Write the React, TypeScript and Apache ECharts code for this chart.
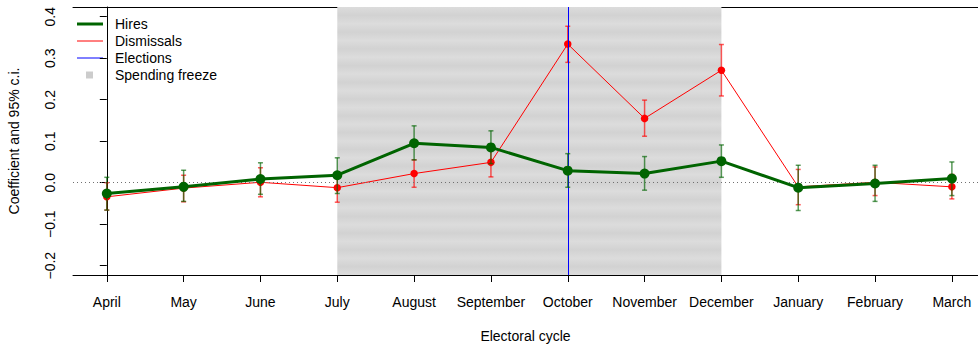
import React, { useEffect, useRef } from "react";
import * as echarts from "echarts";

const MONTHS = ["April", "May", "June", "July", "August", "September", "October", "November", "December", "January", "February", "March"];
const HIRES = [-0.026, -0.010, 0.009, 0.018, 0.095, 0.085, 0.029, 0.022, 0.052, -0.012, -0.002, 0.010];
const HIRES_LO = [-0.066, -0.045, -0.028, -0.026, 0.055, 0.046, -0.011, -0.018, 0.013, -0.067, -0.045, -0.031];
const HIRES_HI = [0.013, 0.030, 0.048, 0.060, 0.137, 0.125, 0.070, 0.063, 0.091, 0.042, 0.042, 0.050];
const DISM = [-0.034, -0.013, 0.001, -0.012, 0.022, 0.049, 0.334, 0.155, 0.271, -0.010, 0.001, -0.010];
const DISM_LO = [-0.066, -0.046, -0.034, -0.047, -0.011, 0.014, 0.290, 0.112, 0.209, -0.053, -0.031, -0.039];
const DISM_HI = [0.000, 0.018, 0.036, 0.022, 0.055, 0.088, 0.377, 0.199, 0.333, 0.032, 0.038, 0.020];
const Y_TICKS = [-0.2, -0.1, 0.0, 0.1, 0.2, 0.3, 0.4];
const FREEZE = [3, 8]; // July .. December
const ELECTION = 6; // October

const FONT = "'Liberation Sans', Arial, Helvetica, sans-serif";

function errorSeries(name: string, lo: number[], hi: number[], color: string, z: number) {
  return {
    type: "custom",
    name,
    z,
    silent: true,
    xAxisIndex: 0,
    data: lo.map((l, i) => [i, l, hi[i]]),
    renderItem: (params: any, api: any) => {
      const x = api.value(0);
      const p1 = api.coord([x, api.value(1)]);
      const p2 = api.coord([x, api.value(2)]);
      const cap = 2.5;
      const style = { stroke: color, lineWidth: 1.5, fill: "none" };
      return {
        type: "group",
        children: [
          { type: "line", shape: { x1: p1[0], y1: p1[1], x2: p2[0], y2: p2[1] }, style },
          { type: "line", shape: { x1: p1[0] - cap, y1: p1[1], x2: p1[0] + cap, y2: p1[1] }, style },
          { type: "line", shape: { x1: p2[0] - cap, y1: p2[1], x2: p2[0] + cap, y2: p2[1] }, style },
        ],
      };
    },
  };
}

export default function App() {
  const ref = useRef<HTMLDivElement>(null);
  useEffect(() => {
    if (!ref.current) return;
    const chart = echarts.init(ref.current, undefined, { renderer: "svg" });

    const stops: any[] = [];
    const N = 32;
    for (let k = 0; k <= N; k++) {
      stops.push({ offset: k / N, color: k % 2 === 0 ? "#dcdcdc" : "#d2d2d2" });
    }
    const stripe = new echarts.graphic.LinearGradient(0, 0, 0, 1, stops);

    const legendY = [24, 41, 58, 75];
    const legendText = ["Hires", "Dismissals", "Elections", "Spending freeze"];

    chart.setOption({
      animation: false,
      textStyle: { fontFamily: FONT },
      grid: {
        left: 73,
        top: 7,
        right: 0,
        bottom: 70,
        show: false,
        containLabel: false,
        outerBoundsMode: "none",
      },
      xAxis: [
        {
          type: "value",
          position: "bottom",
          min: -0.44,
          max: 11.34,
          splitLine: { show: false },
          axisLine: { show: true, onZero: false, lineStyle: { color: "#000", width: 1 } },
          axisTick: { show: true, customValues: MONTHS.map((_, i) => i), length: 7, lineStyle: { color: "#000" } },
          axisLabel: {
            customValues: MONTHS.map((_, i) => i),
            formatter: (v: number) => MONTHS[Math.round(v)] ?? "",
            color: "#000",
            fontSize: 14,
            fontFamily: FONT,
            margin: 20,
          },
          name: "Electoral cycle",
          nameLocation: "middle",
          nameGap: 54,
          nameTextStyle: { color: "#000", fontSize: 14, fontFamily: FONT },
        },
        {
          type: "value",
          position: "top",
          min: -0.44,
          max: 11.34,
          splitLine: { show: false },
          axisLine: { show: true, onZero: false, lineStyle: { color: "#000", width: 1 } },
          axisTick: { show: false },
          axisLabel: { show: false },
        },
      ],
      yAxis: {
        type: "value",
        min: -0.2224,
        max: 0.4234,
        splitLine: { show: false },
        axisLine: { show: true, lineStyle: { color: "#000", width: 1 } },
        axisTick: { show: true, customValues: Y_TICKS, length: 7, lineStyle: { color: "#000" } },
        axisLabel: {
          customValues: Y_TICKS,
          formatter: (v: number) => (v < -1e-9 ? "\u2212" + Math.abs(v).toFixed(1) : v.toFixed(1)),
          rotate: 90,
          color: "#000",
          fontSize: 14,
          fontFamily: FONT,
          margin: 16,
        },
        name: "Coefficient and 95% c.i.",
        nameLocation: "middle",
        nameRotate: 90,
        nameGap: 52,
        nameTextStyle: { color: "#000", fontSize: 14, fontFamily: FONT },
      },
      series: [
        {
          type: "line",
          name: "freeze",
          data: [],
          z: 1,
          silent: true,
          markArea: {
            silent: true,
            itemStyle: { color: stripe, opacity: 1 },
            data: [[{ xAxis: FREEZE[0] }, { xAxis: FREEZE[1] }]],
          },
        },
        {
          type: "line",
          name: "refs",
          data: [],
          z: 2,
          silent: true,
          markLine: {
            silent: true,
            symbol: ["none", "none"],
            label: { show: false },
            data: [
              { yAxis: 0, lineStyle: { color: "#707070", type: [1, 3], width: 1 } },
            ],
          },
        },
        errorSeries("dismErr", DISM_LO, DISM_HI, "rgba(255,0,0,0.65)", 3),
        {
          type: "line",
          name: "Dismissals",
          data: DISM.map((v, i) => [i, v]),
          z: 4,
          symbol: "circle",
          symbolSize: 7.5,
          lineStyle: { color: "#ff0000", width: 1 },
          itemStyle: { color: "#ff0000" },
        },
        errorSeries("hiresErr", HIRES_LO, HIRES_HI, "rgba(0,100,0,0.65)", 5),
        {
          type: "line",
          name: "Hires",
          data: HIRES.map((v, i) => [i, v]),
          z: 6,
          symbol: "circle",
          symbolSize: 10,
          lineStyle: { color: "#006400", width: 3 },
          itemStyle: { color: "#006400" },
        },
        {
          type: "line",
          name: "elections",
          data: [],
          z: 7,
          silent: true,
          markLine: {
            silent: true,
            symbol: ["none", "none"],
            label: { show: false },
            data: [{ xAxis: ELECTION, lineStyle: { color: "#0000ff", type: "solid", width: 1 } }],
          },
        },
      ],
      graphic: [
        { type: "line", shape: { x1: 77, y1: legendY[0], x2: 103, y2: legendY[0] }, style: { stroke: "#006400", lineWidth: 3 } },
        { type: "line", shape: { x1: 77, y1: legendY[1], x2: 103, y2: legendY[1] }, style: { stroke: "#ff0000", lineWidth: 1 } },
        { type: "line", shape: { x1: 77, y1: legendY[2], x2: 103, y2: legendY[2] }, style: { stroke: "#0000ff", lineWidth: 1 } },
        { type: "rect", shape: { x: 86, y: legendY[3] - 3.5, width: 7, height: 7 }, style: { fill: "#cccccc" } },
        ...legendText.map((t, i) => ({
          type: "text",
          x: 115,
          y: legendY[i],
          style: { text: t, fontSize: 14, fontFamily: FONT, fill: "#000", verticalAlign: "middle", align: "left" },
        })),
      ],
    });
    return () => chart.dispose();
  }, []);
  return <div ref={ref} style={{ width: 978, height: 345, position: "absolute", left: 0, top: 0 }} />;
}
